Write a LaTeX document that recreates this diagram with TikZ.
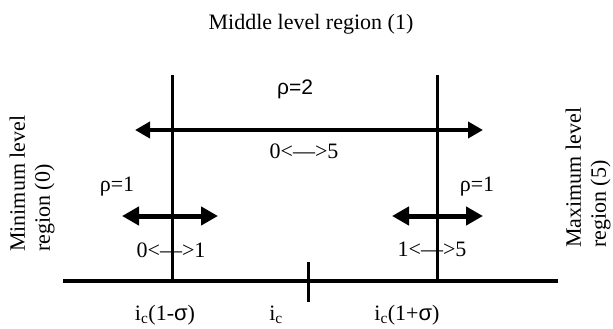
\documentclass[tikz,border=0pt]{standalone}
\usepackage{fontspec}
\setmainfont{Liberation Serif}
\newfontfamily\sansgr{Liberation Sans}
\usetikzlibrary{arrows.meta, positioning}

\begin{document}
\begin{tikzpicture}[x=1pt, y=-1pt,
      lab/.style={font=\fontsize{22}{25}\selectfont, inner sep=1pt},
      side/.style={lab, rotate=90, align=left, anchor=west, font=\fontsize{22}{25}\selectfont},
      axis/.style={line width=3.4pt},
      bar/.style={line width=3pt},
      arr/.style={{Triangle[length=15pt, width=16pt]}-{Triangle[length=15pt, width=16pt]}, line width=4pt},
      shortarr/.style={{Triangle[length=17pt, width=18pt]}-{Triangle[length=17pt, width=18pt]}, line width=5pt}]
    \useasboundingbox (0,0) rectangle (613,329);
    % axis and region limits
    \coordinate (axL) at (63,281);
    \coordinate (axR) at (558,281);
    \coordinate (limLtop) at (172,75);
    \coordinate (limLbot) at (172,281);
    \coordinate (limRtop) at (437,75);
    \coordinate (limRbot) at (437,281);
    \coordinate (tickT) at (308,262);
    \coordinate (tickB) at (308,302);
    \draw[axis] (axL) -- (axR);
    \draw[bar] (limLtop) -- (limLbot);
    \draw[bar] (limRtop) -- (limRbot);
    \draw[bar] (tickT) -- (tickB);
    % transitions
    \coordinate (bigL) at (135,130);
    \coordinate (bigR) at (483,130);
    \coordinate (loL) at (122,216);
    \coordinate (loR) at (218,216);
    \coordinate (hiL) at (392,216);
    \coordinate (hiR) at (483,216);
    \draw[arr] (bigL) -- (bigR);
    \draw[shortarr] (loL) -- (loR);
    \draw[shortarr] (hiL) -- (hiR);
    % texts
    \node[lab] (mid) at (311,24) {Middle level region (1)};
    \node[side] (minreg) at (32,253) {Minimum level\\region (0)};
    \node[side] (maxreg) at (588,249) {Maximum level\\region (5)};
    \node[lab, font=\fontsize{21}{24}\selectfont] (rho2) at (295,89) {\sansgr ρ=2};
    \node[lab] (r05) at (304,151) {0\textless---\textgreater5};
    \node[lab] (rho1L) at (117,187) {ρ=1};
    \node[lab] (rho1R) at (477,187) {ρ=1};
    \node[lab] (r01) at (171,250) {0\textless---\textgreater1};
    \node[lab] (r15) at (432,249) {1\textless---\textgreater5};
    \node[lab] (icm) at (165,315) {i\textsubscript{c}(1-{\sansgr σ})};
    \node[lab] (ic) at (276,315) {i\textsubscript{c}};
    \node[lab] (icp) at (407,315) {i\textsubscript{c}(1+{\sansgr σ})};
  \end{tikzpicture}
\end{document}
